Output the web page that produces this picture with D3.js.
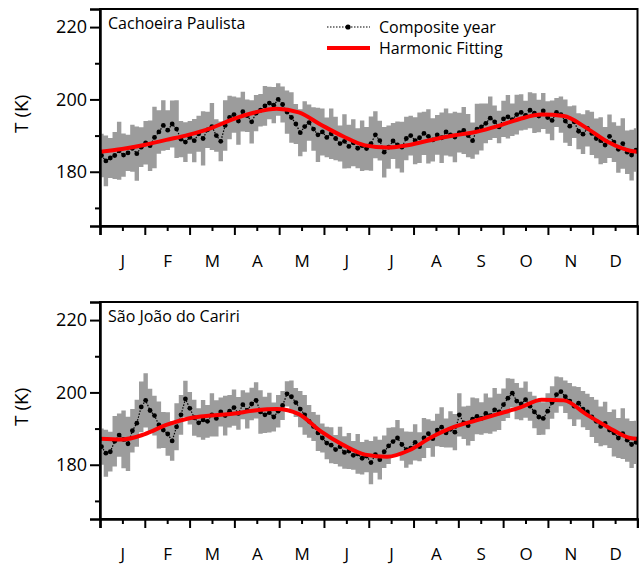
<!DOCTYPE html>
<html>
<head>
<meta charset="utf-8">
<script src="https://cdn.jsdelivr.net/npm/d3@7"></script>
<style>
  body { margin: 0; background: #fff; }
  svg { display: block; }
  text { font-family: "Open Sans", sans-serif; fill: #000; }
</style>
</head>
<body>
<div id="chart-container"></div>
<script>
const months = ["J", "F", "M", "A", "M", "J", "J", "A", "S", "O", "N", "D"];
const stations = ["Cachoeira Paulista", "São João do Cariri"];
const yMajor = [180, 200, 220];
const yMinor = [170, 190, 210];

// composite year sampled every 3 days (day of year 1, 4, ... 364)
const sampleDays = d3.range(1, 365, 3);

const cpMean = [
  184.5, 183.0, 183.8, 184.5, 185.8, 184.6, 185.2, 186.5, 185.0, 186.8, 188.0,
  187.2, 189.5, 191.0, 192.8, 191.5, 193.2, 191.8, 189.0, 188.2,
  189.5, 188.6, 190.5, 189.2, 191.6, 192.5, 190.0, 188.4, 192.8, 195.0,
  195.8, 194.0, 196.6, 195.5, 193.8, 196.2, 197.0, 198.2, 199.0, 198.4,
  200.0, 198.6, 196.5, 195.0, 193.2, 190.8, 192.5, 193.6, 191.8, 190.2,
  191.0, 189.5, 190.5, 189.2, 187.8, 188.4, 187.0, 188.0, 186.5, 187.2,
  186.4, 187.8, 190.2, 188.6, 185.4, 186.8, 188.5, 187.4, 186.8, 189.2,
  190.0, 188.6, 189.4, 190.6, 189.8, 188.8, 190.2, 189.4, 191.0, 190.2,
  189.6, 190.8, 191.4, 190.0, 188.6, 191.8, 192.4, 193.4, 194.8, 193.8,
  192.4, 194.6, 195.2, 194.4, 195.8, 196.4, 195.6, 197.0, 196.2, 195.4,
  196.8, 195.0, 194.2, 196.4, 195.8, 194.0, 192.6, 193.8, 191.2, 190.4,
  192.0, 190.6, 189.2, 188.6, 187.4, 189.8, 188.2, 186.2, 187.8, 185.4, 184.6, 186.0
];
const cpErr = [
  6, 7, 5.5, 6.5, 8, 6, 5, 6.5, 7.5, 5.5, 6,
  7, 8.5, 6, 7, 5.5, 6.5, 8, 5, 5.5,
  4.5, 6, 5, 7.5, 5, 6.5, 4.5, 5.5, 7, 6,
  5, 6.5, 5.5, 4.5, 6, 5, 4.5, 5.5, 4.5, 5,
  4.5, 5, 6, 7, 5.5, 6.5, 7, 5, 6, 7.5,
  6.5, 5.5, 7, 6, 5, 7.5, 6, 6.5, 5.5, 7,
  6, 7.5, 6.5, 5.5, 7, 6, 5, 6.5, 7, 6,
  5.5, 6.5, 7, 6, 7.5, 6, 5.5, 7, 6.5, 6,
  7, 5.5, 6.5, 6, 5, 7, 6.5, 5.5, 6, 4.5,
  4.5, 5, 6, 4.5, 5.5, 5, 4, 5, 5.5, 4.5,
  5, 4.5, 5.5, 4, 5, 6, 5.5, 4.5, 5, 5.5,
  5, 6, 5.5, 6.5, 5, 6, 5.5, 6.5, 7, 6, 7, 6
];

const sjMean = [
  185.0, 183.2, 183.6, 186.5, 188.2, 187.0, 185.8, 189.4, 191.5, 196.0, 197.8,
  195.0, 193.6, 191.0, 189.6, 188.5, 186.6, 190.5, 193.8, 198.2,
  195.6, 193.0, 191.6, 192.4, 192.0, 193.8, 192.8, 194.6, 193.6, 194.8,
  195.8, 194.2, 196.6, 195.0, 196.8, 197.8, 194.6, 193.8, 194.4, 193.2,
  194.8, 196.4, 199.6, 198.8, 197.2, 195.4, 193.8, 192.0, 190.6, 188.8,
  187.4, 186.0, 185.4, 184.2, 185.0, 183.4, 183.8, 182.6, 183.0, 181.8,
  182.4, 180.6, 182.8, 181.4, 183.6, 185.2, 186.4, 187.4, 185.6, 184.2,
  184.6, 186.2, 185.0, 187.4, 188.6, 187.2, 189.6, 190.4, 188.8, 189.8,
  189.0, 193.8, 191.6, 190.8, 192.6, 193.4, 192.8, 194.2, 193.6, 195.2,
  194.6, 196.6, 198.4, 199.8, 197.6, 196.8, 198.0, 196.2, 194.6, 193.2,
  192.8, 194.8, 197.2, 199.4, 200.2, 198.8, 197.6, 196.2, 197.0, 195.4,
  194.6, 193.2, 192.0, 190.6, 191.4, 189.6, 188.8, 187.4, 188.6, 186.8, 185.6, 186.2
];
const sjErr = [
  5, 6.5, 5.5, 7, 6, 8, 7.5, 6, 6.5, 7, 7.5,
  6, 5.5, 6.5, 5, 6, 5.5, 6.5, 5.5, 5,
  4.5, 5, 4, 5.5, 4.5, 6, 5, 4, 5.5, 4.5,
  5, 4.5, 4, 5, 4.5, 5, 6, 5, 5.5, 4,
  4.5, 4, 3.5, 4.5, 4, 5, 5.5, 4.5, 4, 5,
  4, 4.5, 5, 4, 5.5, 4.5, 5, 4, 5.5, 4.5,
  4.5, 6, 5, 5.5, 4.5, 5, 4, 5, 4.5, 5,
  4.5, 5, 4, 5.5, 4, 5, 4.5, 5.5, 4, 5,
  5, 6, 4.5, 5.5, 6, 5, 4.5, 5.5, 5, 6,
  5, 4.5, 5.5, 4, 5, 4.5, 5, 4, 4.5, 5,
  4.5, 5, 4.5, 5, 4, 4.5, 5, 5.5, 4.5, 5,
  5, 5.5, 6, 5.5, 6, 5, 6.5, 5.5, 7, 6, 6.5, 6
];

// harmonic fit read every 15 days
const fitDays = [0, 15, 30, 45, 60, 75, 90, 105, 120, 135, 150, 165, 180, 195,
  210, 225, 240, 255, 270, 285, 300, 315, 330, 345, 360, 365];
const cpFit = [185.5, 186.3, 187.4, 188.8, 190.2, 192.0, 194.5, 196.4, 197.4, 196.4,
  193.0, 189.8, 187.3, 186.7, 187.4, 188.8, 190.0, 191.0, 192.6, 194.6, 195.8,
  195.4, 192.2, 188.2, 185.8, 185.5];
const sjFit = [187.2, 187.0, 188.4, 191.0, 192.8, 193.6, 194.1, 195.0, 195.4, 194.0,
  189.2, 185.5, 182.8, 182.2, 184.0, 187.6, 190.4, 192.2, 194.0, 195.8, 198.0,
  197.8, 194.0, 190.4, 187.4, 187.2];

const panels = [
  { name: stations[0], mean: cpMean, err: cpErr, fit: cpFit, top: 9 },
  { name: stations[1], mean: sjMean, err: sjErr, fit: sjFit, top: 302 }
];

const W = 639, H = 569;
const margin = { left: 100, right: 1.5 };
const panelH = 217;

const svg = d3
  .select("#chart-container")
  .append("svg")
  .attr("width", W)
  .attr("height", H);

const xScale = d3.scaleLinear().domain([0, 365]).range([margin.left, W - margin.right]);
const monthLen = 365 / 12;
const majorX = d3.range(13).map((k) => k * monthLen);
const minorX = d3.range(12).map((k) => (k + 0.5) * monthLen);

panels.forEach((p, pi) => {
  const yScale = d3.scaleLinear().domain([165, 225]).range([p.top + panelH, p.top]);
  const g = svg.append("g");

  const clipId = "clip" + pi;
  g.append("clipPath")
    .attr("id", clipId)
    .append("rect")
    .attr("x", margin.left)
    .attr("y", p.top)
    .attr("width", W - margin.right - margin.left)
    .attr("height", panelH);

  const rows = sampleDays.map((d, i) => ({ day: d, t: p.mean[i], e: p.err[i] }));
  const plot = g.append("g").attr("clip-path", `url(#${clipId})`);

  // std band, one step per sample
  const band = d3
    .area()
    .curve(d3.curveStep)
    .x((d) => xScale(d.day))
    .y0((d) => yScale(d.t - d.e))
    .y1((d) => yScale(d.t + d.e));
  plot
    .append("path")
    .datum(rows)
    .attr("fill", "#9c9c9c")
    .attr("d", band);

  // composite year
  const line = d3
    .line()
    .x((d) => xScale(d.day))
    .y((d) => yScale(d.t));
  plot
    .append("path")
    .datum(rows)
    .attr("fill", "none")
    .attr("stroke", "#000")
    .attr("stroke-width", 1.2)
    .attr("stroke-dasharray", "1.5,1.5")
    .attr("d", line);
  plot
    .selectAll(".dot")
    .data(rows)
    .join("circle")
    .attr("cx", (d) => xScale(d.day))
    .attr("cy", (d) => yScale(d.t))
    .attr("r", 2.4)
    .attr("fill", "#000");

  // harmonic fit
  const fitLine = d3
    .line()
    .curve(d3.curveMonotoneX)
    .x((d, i) => xScale(fitDays[i]))
    .y((d) => yScale(d));
  plot
    .append("path")
    .datum(p.fit)
    .attr("fill", "none")
    .attr("stroke", "#ff0000")
    .attr("stroke-width", 4)
    .attr("d", fitLine);

  // frame
  g.append("rect")
    .attr("x", margin.left)
    .attr("y", p.top)
    .attr("width", W - margin.right - margin.left)
    .attr("height", panelH)
    .attr("fill", "none")
    .attr("stroke", "#000")
    .attr("stroke-width", 2);

  // x axis
  const xBase = p.top + panelH;
  g.append("g")
    .attr("transform", `translate(0,${xBase})`)
    .call(d3.axisBottom(xScale).tickValues(majorX).tickSize(9).tickFormat(""))
    .call((a) => a.select(".domain").attr("stroke-width", 2.5));
  g.append("g")
    .attr("transform", `translate(0,${xBase})`)
    .style("font-size", "17px")
    .call(
      d3
        .axisBottom(xScale)
        .tickValues(minorX)
        .tickSize(5)
        .tickPadding(24)
        .tickFormat((d, i) => months[i])
    )
    .call((a) => a.select(".domain").remove());

  // y axis
  g.append("g")
    .attr("transform", `translate(${margin.left},0)`)
    .style("font-size", "18px")
    .call(d3.axisLeft(yScale).tickValues(yMajor).tickSize(10).tickPadding(3))
    .call((a) => a.select(".domain").attr("stroke-width", 2.5));
  g.append("g")
    .attr("transform", `translate(${margin.left},0)`)
    .call(d3.axisLeft(yScale).tickValues(yMinor).tickSize(5).tickFormat(""))
    .call((a) => a.select(".domain").remove());

  g.selectAll(".tick line").attr("stroke-width", 2);
  g.selectAll(".tick text").attr("fill", "#000").style("font-family", '"Open Sans", sans-serif');

  // y label
  g.append("text")
    .attr("transform", `translate(28,${yScale(196)}) rotate(-90)`)
    .attr("text-anchor", "middle")
    .style("font-size", "19px")
    .text("T (K)");

  // station name
  g.append("text")
    .attr("x", 108)
    .attr("y", p.top + 20)
    .style("font-size", "16px")
    .text(p.name);
});

// legend
const lg = svg.append("g");
lg.append("line")
  .attr("x1", 327).attr("x2", 370).attr("y1", 27).attr("y2", 27)
  .attr("stroke", "#000").attr("stroke-width", 1.2).attr("stroke-dasharray", "1.5,1.5");
lg.append("circle").attr("cx", 348).attr("cy", 27).attr("r", 2.6).attr("fill", "#000");
lg.append("text").attr("x", 379).attr("y", 33).style("font-size", "16px").text("Composite year");
lg.append("line")
  .attr("x1", 327).attr("x2", 370).attr("y1", 48).attr("y2", 48)
  .attr("stroke", "#ff0000").attr("stroke-width", 4);
lg.append("text").attr("x", 379).attr("y", 54).style("font-size", "16px").text("Harmonic Fitting");
</script>
</body>
</html>
